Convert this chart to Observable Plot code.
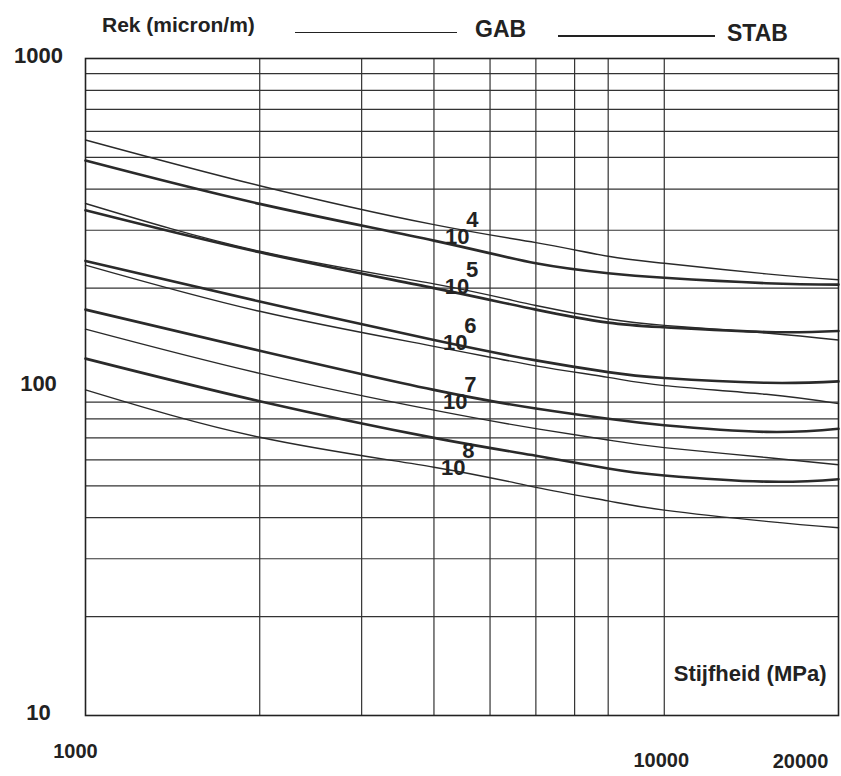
<!DOCTYPE html>
<html>
<head>
<meta charset="utf-8">
<script src="https://cdn.jsdelivr.net/npm/d3@7"></script>
<script src="https://cdn.jsdelivr.net/npm/@observablehq/plot@0.6"></script>
<style>
  body { margin: 0; background: #fff; }
  #wrap { position: relative; width: 841px; height: 776px; font-family: "Liberation Sans", Arial, sans-serif; font-weight: bold; color: #222; }
  .hdr { position: absolute; white-space: nowrap; line-height: 1; }
  .ln { position: absolute; height: 0; border-top-style: solid; border-top-color: #222; }
  #chart { position: absolute; left: 0; top: 0; }
</style>
</head>
<body>
<div id="wrap">
  <div id="chart"></div>
  <div class="hdr" style="left:102px; top:14px; font-size:21px;">Rek (micron/m)</div>
  <div class="ln" style="left:295px; top:32px; width:162px; border-top-width:1.5px;"></div>
  <div class="hdr" style="left:475px; top:18px; font-size:23px;">GAB</div>
  <div class="ln" style="left:558px; top:35px; width:157px; border-top-width:2px;"></div>
  <div class="hdr" style="left:727px; top:22px; font-size:23px;">STAB</div>
</div>
<script>
// Stiffness (MPa) sample positions
const stiffness = [1000, 2000, 4000, 6000, 8000, 10000, 15000, 20000];
// Strain (micron/m) per load repetitions 10^n, GAB (thin) and STAB (thick)
const gab4  = [565, 410, 312, 275, 250, 238, 221, 212];
const stab4 = [489, 361, 279, 238, 222, 215, 207, 205];
const gab5  = [362, 259, 206, 177, 161, 154, 146, 139];
const stab5 = [345, 257, 200, 172, 157, 152, 147, 148];
const gab6  = [235, 170, 133, 116, 107, 101, 95, 89];
const stab6 = [242, 182, 139, 120.5, 111, 106.5, 103, 104];
const gab7  = [150, 110, 85, 74.7, 69, 65.4, 61, 58];
const stab7 = [172, 129, 98, 86, 80, 76.5, 73, 74.6];
const gab8  = [98, 70.3, 57, 49.5, 45, 42.2, 39, 37.3];
const stab8 = [122, 90.5, 70, 61.8, 56.5, 53.8, 51.5, 52.4];

// Curve labels 10^n
const exponents = ["4", "5", "6", "7", "8"];
const labelX = [4390, 4385, 4355, 4355, 4320];
const labelY = [286, 201, 136, 90, 56.7];

// Grid and ticks
const gridY = [20, 30, 40, 50, 60, 70, 80, 90, 200, 300, 400, 500, 600, 700, 800, 900];
const gridX = [2000, 3000, 4000, 5000, 6000, 7000, 8000, 10000];
const yTicks = [10, 100, 1000];
const xTicks = [1000, 10000, 20000];
const xLabel = "Stijfheid (MPa)";

const series = [
  ["GAB", "4", gab4], ["STAB", "4", stab4],
  ["GAB", "5", gab5], ["STAB", "5", stab5],
  ["GAB", "6", gab6], ["STAB", "6", stab6],
  ["GAB", "7", gab7], ["STAB", "7", stab7],
  ["GAB", "8", gab8], ["STAB", "8", stab8]
];
const rows = [];
for (const [type, n, vals] of series) {
  stiffness.forEach((x, i) => rows.push({type, n, x, y: vals[i]}));
}
const labels = exponents.map((e, i) => ({e, x: labelX[i], y: labelY[i]}));

const plot = Plot.plot({
  width: 841,
  height: 776,
  marginLeft: 85,
  marginRight: 3,
  marginTop: 58,
  marginBottom: 61,
  x: {type: "log", domain: [1000, 20000], label: null},
  y: {type: "log", domain: [10, 1000], label: null},
  style: {fontFamily: "'Liberation Sans', Arial, sans-serif", fontWeight: "bold", color: "#222", background: "transparent"},
  marks: [
    Plot.ruleY(gridY, {stroke: "#333", strokeWidth: 1.2}),
    Plot.ruleX(gridX, {stroke: "#333", strokeWidth: 1.2}),
    Plot.line(rows.filter(d => d.type === "GAB"), {x: "x", y: "y", z: "n", curve: "natural", stroke: "#2a2a2a", strokeWidth: 1.4}),
    Plot.line(rows.filter(d => d.type === "STAB"), {x: "x", y: "y", z: "n", curve: "natural", stroke: "#2a2a2a", strokeWidth: 2.6}),
    Plot.frame({stroke: "#222", strokeWidth: 1.6}),
    Plot.axisY(yTicks, {label: null, tickSize: 0, tickPadding: 47, textAnchor: "middle", fontSize: 22, dy: -3, tickFormat: d => String(d)}),
    Plot.axisX([xTicks[0]], {label: null, tickSize: 0, tickPadding: 28, dx: -10, fontSize: 20, tickFormat: d => String(d)}),
    Plot.axisX([xTicks[1]], {label: null, tickSize: 0, tickPadding: 37, dx: -3, fontSize: 20, tickFormat: d => String(d)}),
    Plot.axisX([xTicks[2]], {label: null, tickSize: 0, tickPadding: 38, dx: -38, fontSize: 20, tickFormat: d => String(d)}),
    Plot.text(labels, {x: "x", y: "y", text: () => "10", fontSize: 22, fill: "#222"}),
    Plot.text(labels, {x: "x", y: "y", text: "e", dx: 15, dy: -17, fontSize: 22, fill: "#222"}),
    Plot.text([xLabel], {frameAnchor: "bottom-right", textAnchor: "end", dx: -12, dy: -35, fontSize: 22, fill: "#222"})
  ]
});
document.getElementById("chart").appendChild(plot);
</script>
</body>
</html>
